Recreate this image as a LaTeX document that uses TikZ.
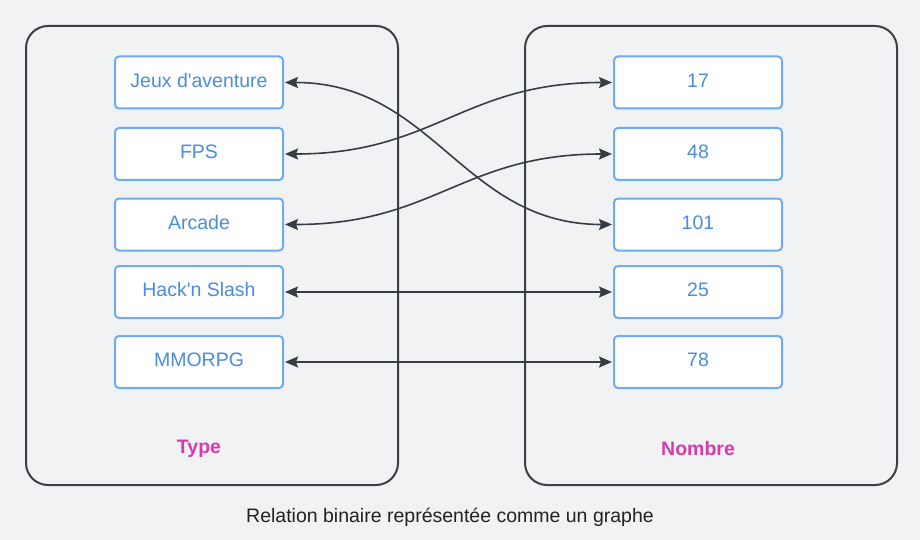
\documentclass[tikz,border=0pt]{standalone}
\usepackage{fontspec}
\setmainfont{Liberation Sans}
\usetikzlibrary{arrows.meta}
\definecolor{bg}{HTML}{F1F2F4}
\definecolor{frame}{HTML}{3B3F46}
\definecolor{nodeborder}{HTML}{6EABF5}
\definecolor{nodetext}{HTML}{4A8CE0}
\definecolor{grouplbl}{HTML}{D63AAF}
\definecolor{arrowc}{HTML}{383C44}
\definecolor{captionc}{HTML}{222222}
\begin{document}
\begin{tikzpicture}[x=1pt,y=-1pt,
 item/.style={draw=nodeborder, line width=2pt, fill=white, rounded corners=4pt, minimum width=168pt, minimum height=52pt, text=nodetext, font=\fontsize{19.5}{23}\selectfont, inner sep=0pt},
 itemtext/.style={text=nodetext, font=\fontsize{19.5}{23}\selectfont, inner sep=0pt},
 group/.style={draw=frame, line width=2pt, rounded corners=22pt, minimum width=372pt, minimum height=459pt, inner sep=0pt},
 grouplabel/.style={text=grouplbl, font=\bfseries\fontsize{19.5}{23}\selectfont},
 link/.style={draw=arrowc, line width=1.6pt, shorten <=1pt, shorten >=1pt, {Stealth[length=13pt,width=11pt,inset=2pt]}-{Stealth[length=13pt,width=11pt,inset=2pt]}}]
\fill[bg] (0,0) rectangle (920,540);
\node[group] (gtype) at (212,255.5) {};
\node[group] (gnombre) at (711,255.5) {};
\node[item] (jeux) at (199,82.5) {};
\node[item] (fps) at (199,154) {};
\node[item] (arcade) at (199,224.5) {};
\node[item] (hack) at (199,292) {};
\node[item] (mmorpg) at (199,362) {};
\node[item] (n17) at (698,82.5) {};
\node[item] (n48) at (698,154) {};
\node[item] (n101) at (698,224.5) {};
\node[item] (n25) at (698,292) {};
\node[item] (n78) at (698,362) {};
\node[itemtext] (tjeux) at ([yshift=2pt]jeux.center) {Jeux d\textquotesingle aventure};
\node[itemtext] (tfps) at ([yshift=2pt]fps.center) {FPS};
\node[itemtext] (tarcade) at ([yshift=2pt]arcade.center) {Arcade};
\node[itemtext] (thack) at ([yshift=2pt]hack.center) {Hack\textquotesingle n Slash};
\node[itemtext] (tmmorpg) at ([yshift=2pt]mmorpg.center) {MMORPG};
\node[itemtext] (t17) at ([yshift=2pt]n17.center) {17};
\node[itemtext] (t48) at ([yshift=2pt]n48.center) {48};
\node[itemtext] (t101) at ([yshift=2pt]n101.center) {101};
\node[itemtext] (t25) at ([yshift=2pt]n25.center) {25};
\node[itemtext] (t78) at ([yshift=2pt]n78.center) {78};
\node[grouplabel] (ltype) at (199,448.5) {Type};
\node[grouplabel] (lnombre) at (698,448.5) {Nombre};
\node[text=captionc, font=\fontsize{19.5}{23}\selectfont] (caption) at (450,517.5) {Relation binaire représentée comme un graphe};
\draw[link] (jeux.east) .. controls +(150,0) and +(-150,0) .. (n101.west);
\draw[link] (fps.east) .. controls +(150,0) and +(-150,0) .. (n17.west);
\draw[link] (arcade.east) .. controls +(150,0) and +(-150,0) .. (n48.west);
\draw[link] (hack.east) -- (n25.west);
\draw[link] (mmorpg.east) -- (n78.west);
\end{tikzpicture}
\end{document}
